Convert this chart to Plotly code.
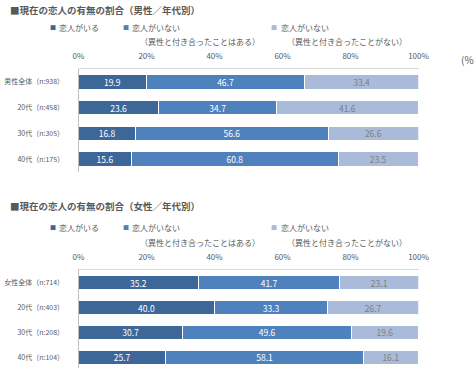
import plotly.graph_objects as go

W, H = 474, 368

series_names = ["恋人がいる", "恋人がいない（異性と付き合ったことはある）", "恋人がいない（異性と付き合ったことがない）"]
colors = ["#3D6699", "#4F81BD", "#A9BBD9"]
text_colors = ["#FFFFFF", "#FFFFFF", "#7F7F7F"]

male_categories = ["男性全体（n:938）", "20代（n:458）", "30代（n:305）", "40代（n:175）"]
male_has = [19.9, 23.6, 16.8, 15.6]
male_none_exp = [46.7, 34.7, 56.6, 60.8]
male_none_never = [33.4, 41.6, 26.6, 23.5]

female_categories = ["女性全体（n:714）", "20代（n:403）", "30代（n:208）", "40代（n:104）"]
female_has = [35.2, 40.0, 30.7, 25.7]
female_none_exp = [41.7, 33.3, 49.6, 58.1]
female_none_never = [23.1, 26.7, 19.6, 16.1]

tick_vals = [0, 20, 40, 60, 80, 100]
tick_text = ["0%", "20%", "40%", "60%", "80%", "100%"]

title_male = "■現在の恋人の有無の割合（男性／年代別）"
title_female = "■現在の恋人の有無の割合（女性／年代別）"
legend_line1 = ["恋人がいる", "恋人がいない", "恋人がいない"]
legend_line2 = ["", "（異性と付き合ったことはある）", "（異性と付き合ったことがない）"]

FONT = "Noto Sans CJK JP"
GRAY = "#595959"

def py(px):
    return 1 - px / H

def px_x(px):
    return px / W

fig = go.Figure()

for cats, vals_list, xa, ya in [
    (male_categories, [male_has, male_none_exp, male_none_never], "x", "y"),
    (female_categories, [female_has, female_none_exp, female_none_never], "x2", "y2"),
]:
    for i, vals in enumerate(vals_list):
        fig.add_trace(go.Bar(
            y=cats, x=vals, orientation="h", name=series_names[i],
            marker=dict(color=colors[i], line=dict(color="white", width=1)),
            text=[f"{v:.1f}" for v in vals], textposition="inside",
            insidetextanchor="middle", constraintext="none",
            textfont=dict(color=text_colors[i], size=8.5, family=FONT),
            xaxis=xa, yaxis=ya, showlegend=False, hoverinfo="skip",
        ))

xdom = [px_x(78.5), px_x(418.5)]
common_x = dict(
    range=[0, 100], side="top", tickvals=tick_vals, ticktext=tick_text,
    showgrid=False, zeroline=False, showline=True, linecolor="#D9D9D9", linewidth=1,
    ticks="", ticklabelstandoff=6, tickfont=dict(size=8, color=GRAY, family=FONT),
    fixedrange=True, automargin=False,
)
common_y = dict(
    type="category", showgrid=False, zeroline=False, showline=True,
    linecolor="#BFBFBF", linewidth=1, ticks="", ticklabelstandoff=12,
    tickfont=dict(size=7, color=GRAY, family=FONT), fixedrange=True, automargin=False,
)

fig.update_layout(
    width=W, height=H, margin=dict(l=0, r=0, t=0, b=0),
    paper_bgcolor="white", plot_bgcolor="white", barmode="stack", bargap=0.43,
    font=dict(family=FONT, color=GRAY),
    xaxis=dict(domain=xdom, anchor="y", **common_x),
    yaxis=dict(domain=[py(172), py(69)], anchor="x", range=[3.5, -0.5], **common_y),
    xaxis2=dict(domain=xdom, anchor="y2", **common_x),
    yaxis2=dict(domain=[py(368), py(270)], anchor="x2", range=[3.42, -0.5], **common_y),
)

ann = []
for title, ty, l1y, l2y in [(title_male, 10, 27, 42), (title_female, 206, 227, 242)]:
    ann.append(dict(text=f"<b>{title}</b>", x=px_x(8), y=py(ty), xref="paper", yref="paper",
                    xanchor="left", yanchor="middle", showarrow=False,
                    font=dict(size=9.5, color=GRAY, family=FONT)))
    mx = [52, 125, 273]
    tx = [57, 130, 279]
    t2x = [0, 138, 285]
    for i in range(3):
        ann.append(dict(text="■", x=px_x(mx[i] + 1), y=py(l1y), xref="paper", yref="paper",
                        xanchor="center", yanchor="middle", showarrow=False,
                        font=dict(size=6, color=colors[i], family=FONT)))
        ann.append(dict(text=legend_line1[i], x=px_x(tx[i]), y=py(l1y), xref="paper", yref="paper",
                        xanchor="left", yanchor="middle", showarrow=False,
                        font=dict(size=8, color=GRAY, family=FONT)))
        if legend_line2[i]:
            ann.append(dict(text=legend_line2[i], x=px_x(t2x[i]), y=py(l2y), xref="paper", yref="paper",
                            xanchor="left", yanchor="middle", showarrow=False,
                            font=dict(size=8, color=GRAY, family=FONT)))

ann.append(dict(text="(%", x=px_x(459), y=py(59), xref="paper", yref="paper",
                xanchor="left", yanchor="middle", showarrow=False,
                font=dict(size=10, color=GRAY, family=FONT)))

fig.update_layout(annotations=ann)
fig.write_html(
    "out.html",
    config={"displayModeBar": False},
    post_script="document.body.style.margin='0';document.body.style.overflow='hidden';",
)
